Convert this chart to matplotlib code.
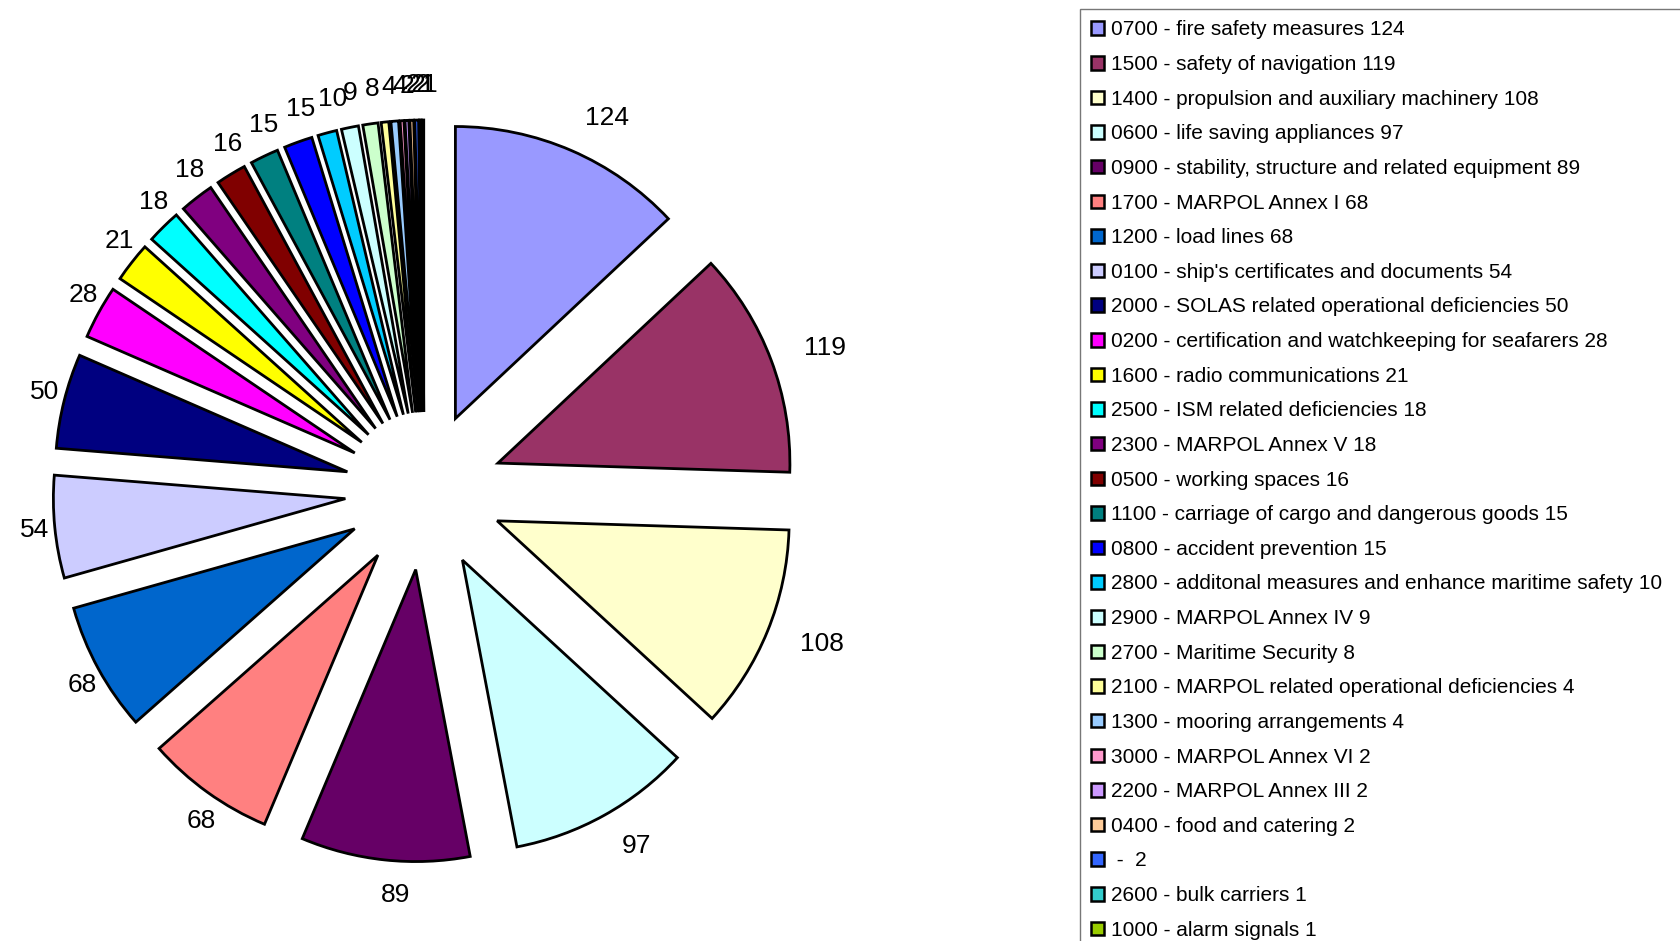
import matplotlib.pyplot as plt

plt.rcParams['font.family'] = ['Liberation Sans', 'DejaVu Sans']

# deficiency categories (code - name) and number of deficiencies
codes = ["0700", "1500", "1400", "0600", "0900", "1700", "1200", "0100", "2000",
         "0200", "1600", "2500", "2300", "0500", "1100", "0800", "2800", "2900",
         "2700", "2100", "1300", "3000", "2200", "0400", "", "2600", "1000"]
names = ["fire safety measures", "safety of navigation",
         "propulsion and auxiliary machinery", "life saving appliances",
         "stability, structure and related equipment", "MARPOL Annex I",
         "load lines", "ship's certificates and documents",
         "SOLAS related operational deficiencies",
         "certification and watchkeeping for seafarers", "radio communications",
         "ISM related deficiencies", "MARPOL Annex V", "working spaces",
         "carriage of cargo and dangerous goods", "accident prevention",
         "additonal measures and enhance maritime safety", "MARPOL Annex IV",
         "Maritime Security", "MARPOL related operational deficiencies",
         "mooring arrangements", "MARPOL Annex VI", "MARPOL Annex III",
         "food and catering", "", "bulk carriers", "alarm signals"]
counts = [124, 119, 108, 97, 89, 68, 68, 54, 50, 28, 21, 18, 18, 16, 15, 15,
          10, 9, 8, 4, 4, 2, 2, 2, 2, 1, 1]

colors = ["#9999FF", "#993366", "#FFFFCC", "#CCFFFF", "#660066", "#FF8080",
          "#0066CC", "#CCCCFF", "#000080", "#FF00FF", "#FFFF00", "#00FFFF",
          "#800080", "#800000", "#008080", "#0000FF", "#00CCFF", "#CCFFFF",
          "#CCFFCC", "#FFFF99", "#99CCFF", "#FF99CC", "#CC99FF", "#FFCC99",
          "#3366FF", "#33CCCC", "#99CC00"]

legend_labels = []
for c, n, v in zip(codes, names, counts):
    if c == "":
        legend_labels.append(" -  %d" % v)
    else:
        legend_labels.append("%s - %s %d" % (c, n, v))

fig = plt.figure(figsize=(16.8, 9.41), dpi=100)
ax = fig.add_axes([0, 0, 1, 1])

# pie drawn in pixel units, so explode is in pixels too
wedges, texts = ax.pie(counts, colors=colors, labels=[str(v) for v in counts],
                       startangle=90, counterclock=False,
                       explode=[79] * len(counts), center=(424, 450), radius=292,
                       labeldistance=1.12,
                       wedgeprops={'edgecolor': 'black', 'linewidth': 2.0},
                       textprops={'fontsize': 19})

ax.set_xlim(0, 1680)
ax.set_ylim(0, 941)
ax.set_aspect('equal')
ax.axis('off')

# legend box runs off the right edge like in the original
leg = fig.legend(wedges, legend_labels, loc='upper left',
                 bbox_to_anchor=(1080 / 1680, 1 - 9 / 941, 0.37, 0), mode='expand',
                 borderaxespad=0, fontsize=15, frameon=True, fancybox=False,
                 handlelength=0.62, handleheight=0.62, handletextpad=0.3,
                 labelspacing=0.75, borderpad=0.55)
leg.get_frame().set_edgecolor('#555555')
leg.get_frame().set_linewidth(1.0)
for h in leg.legend_handles:
    h.set_linewidth(1.8)

fig.savefig("out.png", dpi=100)
